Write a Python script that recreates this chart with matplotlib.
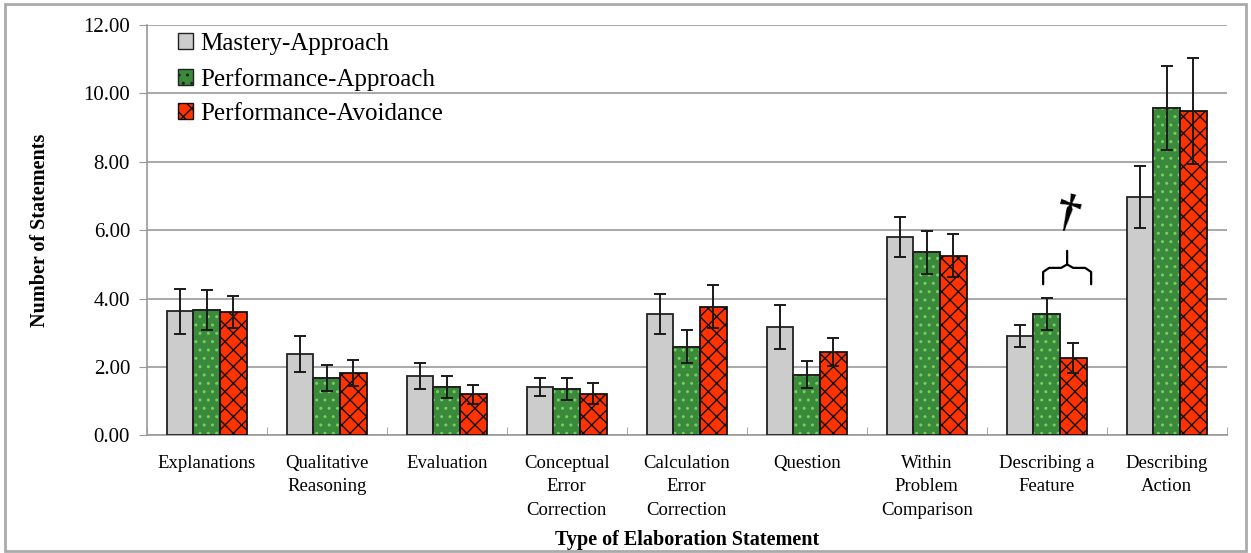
import matplotlib
matplotlib.use("Agg")
import matplotlib.pyplot as plt
import numpy as np
from matplotlib.patches import Rectangle, Patch

categories = ["Explanations", "Qualitative\nReasoning", "Evaluation",
              "Conceptual\nError\nCorrection", "Calculation\nError\nCorrection",
              "Question", "Within\nProblem\nComparison", "Describing a\nFeature",
              "Describing\nAction"]
series = ["Mastery-Approach", "Performance-Approach", "Performance-Avoidance"]

mastery = [3.63, 2.38, 1.74, 1.42, 3.56, 3.17, 5.80, 2.92, 6.97]
perf_app = [3.66, 1.68, 1.42, 1.36, 2.59, 1.78, 5.36, 3.55, 9.57]
perf_avoid = [3.61, 1.84, 1.20, 1.22, 3.77, 2.44, 5.26, 2.27, 9.48]

mastery_err = [0.66, 0.53, 0.38, 0.26, 0.58, 0.65, 0.59, 0.32, 0.90]
perf_app_err = [0.58, 0.38, 0.31, 0.32, 0.48, 0.39, 0.63, 0.48, 1.23]
perf_avoid_err = [0.48, 0.38, 0.28, 0.31, 0.64, 0.41, 0.64, 0.44, 1.55]

plt.rcParams['font.family'] = ['Liberation Serif', 'DejaVu Serif']
plt.rcParams['hatch.linewidth'] = 1.0

fig = plt.figure(figsize=(12.51, 5.53), dpi=100)
ax = fig.add_axes([0.1173, 0.2125, 0.8633, 0.7423])

x = np.arange(len(categories))
w = 0.222
edge = "#222222"
green = "#3b8a3b"
err_kw = dict(ecolor="#1a1a1a", elinewidth=1.4, capsize=4, capthick=1.4)

ax.bar(x - w, mastery, w, color="#cccccc", edgecolor=edge, linewidth=1.3,
       yerr=mastery_err, error_kw=err_kw, zorder=3)
ax.bar(x, perf_app, w, color=green, edgecolor=edge, linewidth=1.3, zorder=3)
ax.bar(x, perf_app, w, color="none", edgecolor="#74d060", linewidth=0,
       hatch="..", zorder=3)
ax.bar(x, perf_app, w, color="none", edgecolor=edge, linewidth=1.3,
       yerr=perf_app_err, error_kw=err_kw, zorder=3)
ax.bar(x + w, perf_avoid, w, color="#ff3300", edgecolor="#111111", linewidth=1.3,
       hatch="xx", yerr=perf_avoid_err, error_kw=err_kw, zorder=3)

ax.set_xlim(-0.5, len(categories) - 0.5)
ax.set_ylim(0, 12)
ax.set_yticks(np.arange(0, 12.1, 2))
ax.set_yticklabels([f"{v:.2f}" for v in np.arange(0, 12.1, 2)], fontsize=15)
ax.yaxis.grid(True, color="#999999", linewidth=1.2, zorder=0)
ax.set_axisbelow(True)
ax.set_xticks(x)
ax.set_xticklabels(categories, fontsize=13.5, linespacing=1.5)
ax.set_xticks(np.arange(-0.5, len(categories)), minor=True)
ax.tick_params(axis="x", which="major", length=0, pad=14)
ax.tick_params(axis="x", which="minor", length=6, color="#999999", direction="in")
ax.tick_params(axis="y", length=6, color="#999999", pad=6)
for s in ["top", "right"]:
    ax.spines[s].set_visible(False)
for s in ["left", "bottom"]:
    ax.spines[s].set_color("#999999")
    ax.spines[s].set_linewidth(1.2)

ax.set_ylabel("Number of Statements", fontsize=14.5, fontweight="bold", labelpad=24)
ax.set_xlabel("Type of Elaboration Statement", fontsize=14.5, fontweight="bold",
              labelpad=8)

handles = [Patch(facecolor="#cccccc", edgecolor=edge),
           Patch(facecolor=green, edgecolor=edge, hatch=".."),
           Patch(facecolor="#ff3300", edgecolor="#111111", hatch="xx")]
leg = ax.legend(handles, series, loc="upper left", bbox_to_anchor=(0.008, 1.035),
                frameon=False, fontsize=18, handlelength=0.6, handleheight=0.6,
                handletextpad=0.3, labelspacing=0.5)

# significance brace and dagger over "Describing a Feature"
i = 7
x0, x1 = i - 0.03, i + 0.37
xm = (x0 + x1) / 2
yb, yt, yp = 4.42, 4.9, 5.4
r = 0.05
ax.plot([x0, x0, x0 + r, xm - r, xm, xm], [yb, yt - 0.12, yt, yt, yt + 0.1, yp],
        color="black", lw=1.6, solid_capstyle="round")
ax.plot([x1, x1, x1 - r, xm + r, xm], [yb, yt - 0.12, yt, yt, yt + 0.1],
        color="black", lw=1.6, solid_capstyle="round")
ax.text(xm, 6.45, "\u2020", fontsize=34, fontweight="bold",
        ha="center", va="center", rotation=-15)

fig.add_artist(Rectangle((0.004, 0.004), 0.992, 0.988, transform=fig.transFigure,
                         fill=False, edgecolor="#aaaaaa", linewidth=2))

fig.savefig("out.png", dpi=100)
